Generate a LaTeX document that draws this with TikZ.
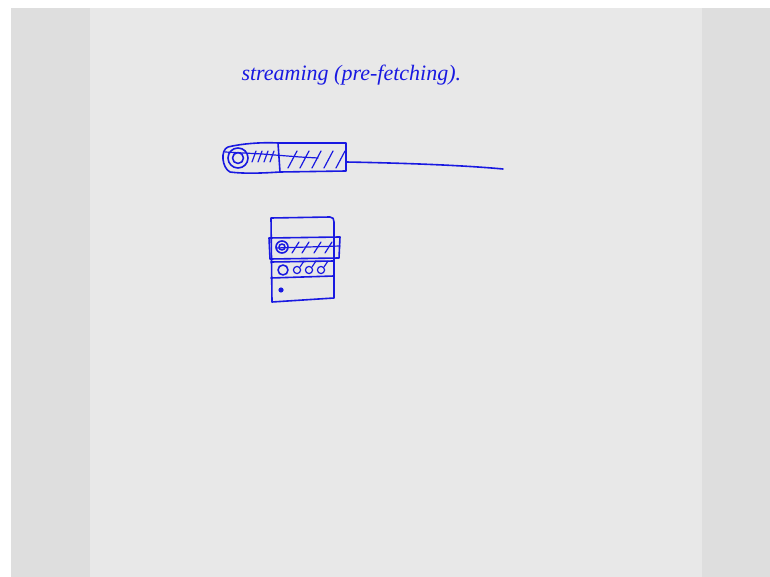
\documentclass[tikz,border=0pt]{standalone}
\usepackage{fontspec}
\setmainfont{Liberation Serif}
\begin{document}
\begin{tikzpicture}[x=1pt,y=-1pt,
  ink/.style={draw=penblue,line width=1.6pt,line cap=round,line join=round},
  thin/.style={draw=penblue,line width=1.2pt,line cap=round}]
\definecolor{penblue}{RGB}{25,25,225}
\definecolor{outer}{RGB}{222,222,222}
\definecolor{paper}{RGB}{232,232,232}
\useasboundingbox (0,0) rectangle (770,577);
\fill[white] (0,0) rectangle (770,577);
\fill[outer] (11,8) rectangle (770,577);
\fill[paper] (90,8) rectangle (702,577);
% title
\node[text=penblue,font=\itshape\fontsize{22}{23}\selectfont,anchor=base west] (title) at (238,81) {streaming (pre-fetching).};
% strip
\draw[ink] (278,143) -- (346,143) -- (346,171) -- (280,172) -- cycle;
\draw[ink] (278,143) .. controls (260,142) and (240,144) .. (228,147)
  .. controls (220,150) and (222,168) .. (230,172) .. controls (245,174) and (265,173) .. (280,172);
\draw[ink] (238,158) circle (10);
\draw[ink] (238,158) circle (5.5);
\draw[thin] (225,152) -- (262,154) -- (300,157) -- (318,158);
\foreach \x in {252,258,264,270} \draw[thin] (\x,162) -- (\x+4,151);
\foreach \x in {288,300,312,324,336} \draw[thin] (\x,168) -- (\x+9,151);
\draw[ink] (346,162) .. controls (400,163) and (460,165) .. (503,169);
% card
\draw[ink] (271,218) -- (330,217) .. controls (333,217) and (334,219) .. (334,222) -- (334,298) -- (272,302) -- cycle;
\draw[ink] (269,238) -- (340,237) -- (339,258) -- (270,259) -- cycle;
\draw[ink] (271,262) -- (334,261);
\draw[ink] (271,278) -- (334,276);
\draw[ink] (282,247) circle (6);
\draw[ink] (282,247) circle (3);
\foreach \x in {292,302,314,325} \draw[thin] (\x,253) -- (\x+7,242);
\draw[thin] (276,248) -- (340,246);
\draw[ink] (283,270) circle (5);
\foreach \x in {297,309,321} \draw[thin] (\x,270) circle (3.6);
\foreach \x in {300,312,324} \draw[thin] (\x,267) -- (\x+4,261);
\fill[penblue] (281,290) circle (2.6);
\end{tikzpicture}
\end{document}
